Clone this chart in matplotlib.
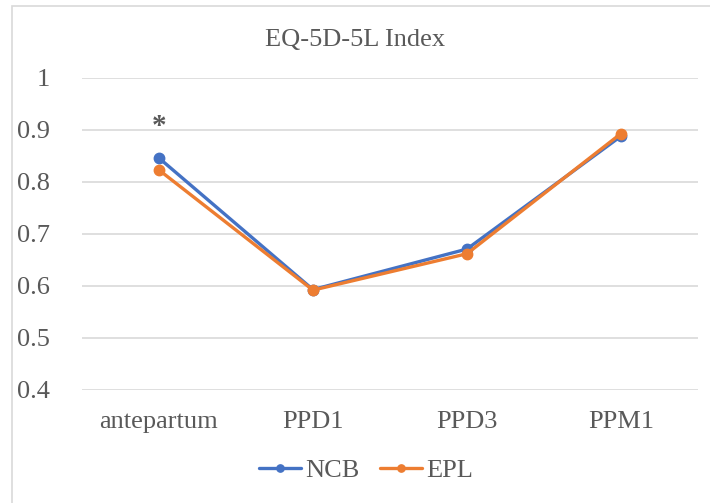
import matplotlib.pyplot as plt
from matplotlib.patches import Rectangle

# values
categories = ['antepartum', 'PPD1', 'PPD3', 'PPM1']
ncb_values = [0.846, 0.593, 0.671, 0.888]
epl_values = [0.823, 0.592, 0.662, 0.893]
y_ticks = [0.4, 0.5, 0.6, 0.7, 0.8, 0.9, 1.0]
y_tick_labels = ['0.4', '0.5', '0.6', '0.7', '0.8', '0.9', '1']

plt.rcParams['font.family'] = ['Liberation Serif', 'DejaVu Serif']
text_color = '#595959'
ncb_color = '#4472C4'
epl_color = '#ED7D31'

fig = plt.figure(figsize=(7.10, 5.03), dpi=100)
ax = fig.add_axes([0.1155, 0.2247, 0.8675, 0.6203])

# light frame around the chart area, as in the spreadsheet export
fig.patches.append(Rectangle((12 / 710, -0.05), 1.0, 1.05 - 6 / 503,
                             transform=fig.transFigure, fill=False,
                             edgecolor='#D9D9D9', linewidth=1.2))

x = range(len(categories))
ax.plot(x, ncb_values, color=ncb_color, lw=2.4, marker='o', ms=7.5,
        label='NCB', solid_capstyle='round', zorder=3)
ax.plot(x, epl_values, color=epl_color, lw=2.4, marker='o', ms=7.5,
        label='EPL', solid_capstyle='round', zorder=4)

# significance marker above antepartum
ax.text(0, 0.906, '*', ha='center', va='center', fontsize=21,
        fontweight='bold', color=text_color)

ax.set_xlim(-0.5, len(categories) - 0.5)
ax.set_ylim(0.4, 1.0)
ax.set_yticks(y_ticks)
ax.set_yticklabels(y_tick_labels)
ax.set_xticks(list(x))
ax.set_xticklabels(categories)
ax.tick_params(axis='both', length=0, labelsize=19, colors=text_color)
ax.tick_params(axis='y', pad=23)
ax.tick_params(axis='x', pad=15)
ax.grid(axis='y', color='#D9D9D9', linewidth=1.2)
ax.set_axisbelow(True)
for spine in ax.spines.values():
    spine.set_visible(False)

fig.text(0.5, 1 - 40 / 503, 'EQ-5D-5L Index', ha='center', va='center',
         fontsize=19, color=text_color)

fig.legend(loc='center', bbox_to_anchor=(366 / 710, 1 - 470 / 503), ncol=2,
           frameon=False, fontsize=19, labelcolor=text_color,
           handlelength=1.6, handletextpad=0.15, columnspacing=0.8,
           markerscale=0.7)

fig.savefig('out.png', dpi=100)
